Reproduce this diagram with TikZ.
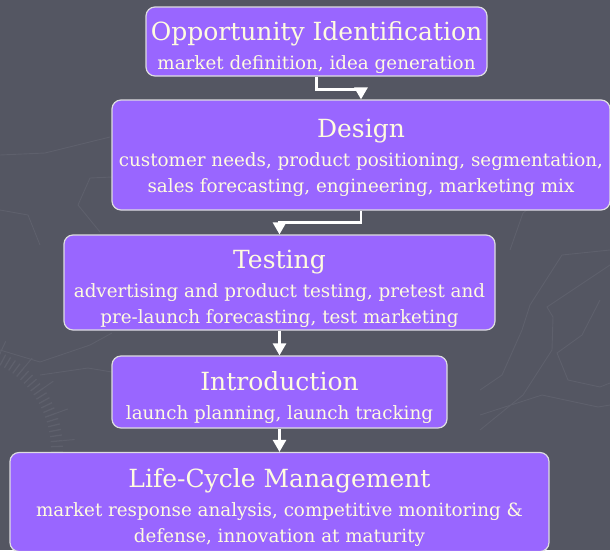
\documentclass[tikz,border=0pt]{standalone}
\usepackage{fontspec}
\setmainfont{DejaVu Serif}
\usepackage{xcolor}
\usepackage{tikz}
\usetikzlibrary{arrows.meta, positioning}

\definecolor{slate}{HTML}{545662}
\definecolor{faintline}{HTML}{5E606C}
\definecolor{boxpurple}{HTML}{9966FF}
\definecolor{cream}{HTML}{FFFCE0}

% stage heading, bigger than the activities below it (the rule pushes the text down a bit)
\newcommand{\stagetitle}[2][31pt]{{\fontsize{25}{30}\selectfont\rule{0pt}{#1}#2}\\[3pt]}

\begin{document}
\begin{tikzpicture}[
    x=1pt, y=-1pt,
    stage/.style={rectangle, rounded corners=9pt, draw=white!80!slate, line width=1.2pt,
        fill=boxpurple, text=cream, align=center, inner sep=1pt,
        font=\fontsize{18.3}{26}\selectfont},
    arrow/.style={-{Triangle[length=12pt, width=13pt]}, draw=white, line width=2.6pt},
    contour/.style={draw=faintline, line width=0.9pt}
]
\fill[slate] (0,0) rectangle (610,550);
\useasboundingbox (0,0) rectangle (610,550);

% faint map lines and compass dial behind the boxes
\draw[contour] (480,390) -- (502,375) -- (522,330) -- (530,305) -- (562,255) -- (610,250);
\draw[contour] (480,430) -- (523,395) -- (552,350) -- (553,317) -- (547,307) -- (610,265);
\draw[contour] (600,300) -- (582,335) -- (557,353) -- (568,380) -- (600,387) -- (610,383);
\draw[contour] (480,415) -- (542,395) -- (598,407) -- (610,405);
\draw[contour] (510,250) -- (523,213) -- (540,200);
\draw[contour] (0,155) -- (45,153) -- (110,137);
\draw[contour] (0,210) -- (28,215) -- (40,245);
\draw[contour] (100,232) -- (78,205) -- (90,178) -- (112,177);
\draw[contour] (0,350) -- (40,362) -- (90,345) -- (112,333);
\draw[contour] (40,375) -- (88,368) -- (112,372);
\foreach \a in {-80,-77,...,4}
    \draw[faintline, line width=1.3pt] (-45,450) ++(\a:96) -- ++(\a:12);
\foreach \a in {-80,-65,...,4}
    \draw[faintline, line width=1pt] (-45,450) ++(\a:108) -- ++(\a:12);

\node[stage, minimum width=341pt, minimum height=69pt] (opp) at (316.5,41.5)
    {\stagetitle{Opportunity Identification}market definition, idea generation};
\node[stage, minimum width=498pt, minimum height=110pt] (design) at (361,155)
    {\stagetitle[24pt]{Design}customer needs, product positioning, segmentation,\\sales forecasting, engineering, marketing mix};
\node[stage, minimum width=431pt, minimum height=95pt] (testing) at (279.5,282.5)
    {\stagetitle{Testing}advertising and product testing, pretest and\\pre-launch forecasting, test marketing};
\node[stage, minimum width=335pt, minimum height=72pt] (intro) at (279.5,392)
    {\stagetitle{Introduction}launch planning, launch tracking};
\node[stage, minimum width=539pt, minimum height=99pt] (lifecycle) at (279.5,502)
    {\stagetitle{Life-Cycle Management}market response analysis, competitive monitoring \&\\defense, innovation at maturity};

\draw[arrow] (opp.south) -- ++(0,13) -| (design.north);
\draw[arrow] (design.south) -- ++(0,12) -| (testing.north);
\draw[arrow] (testing) -- (intro);
\draw[arrow] (intro) -- (lifecycle);
\end{tikzpicture}
\end{document}
